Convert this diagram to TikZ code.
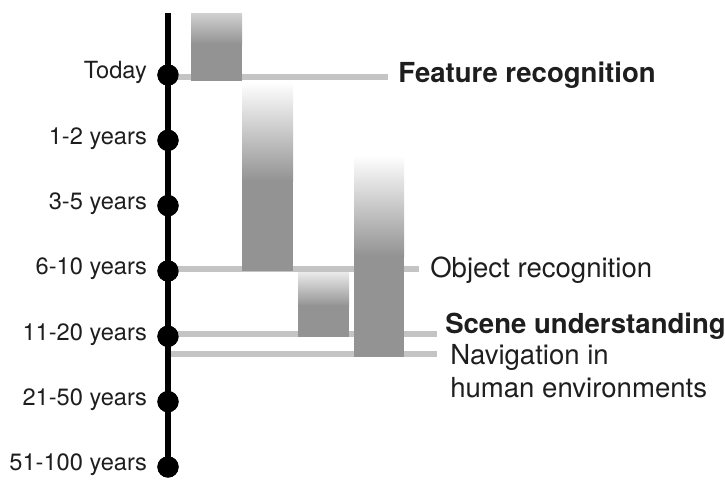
\documentclass[tikz,border=0pt]{standalone}
\usepackage{fontspec}
\setmainfont{TeX Gyre Heros}
\usetikzlibrary{positioning}

\definecolor{bargray}{HTML}{939393}
\definecolor{trackgray}{HTML}{C4C4C4}
\definecolor{inkgray}{HTML}{1E1E1E}

\newcommand{\yearfont}{\fontsize{16.8}{19}\selectfont}
\newcommand{\goalfont}{\fontsize{19.6}{22.8}\selectfont}

\tikzset{
  yeardot/.style={circle,fill=black,inner sep=0pt,minimum size=0.53cm},
  yearlabel/.style={font=\yearfont,text=inkgray,inner sep=0pt,anchor=mid east},
  axis/.style={line width=0.16cm,black},
  track/.style={line width=0.15cm,trackgray},
  goal/.style={font=\goalfont,text=inkgray,inner sep=0pt,anchor=base west,align=left}
}

\begin{document}
\begin{tikzpicture}[x=0.025cm,y=-0.025cm]
\useasboundingbox (0,0) rectangle (725,480);

% time axis
\coordinate (top) at (168,13);
\foreach \lab [count=\i from 0] in {Today,1-2 years,3-5 years,6-10 years,11-20 years,21-50 years,51-100 years}
  \node[yeardot,label={[yearlabel,label distance=0.25cm]left:\lab}] (t\i) at (168,{75+65.33*\i}) {};

% goals
\node[goal,font=\goalfont\bfseries] (feat) at (398,82) {Feature recognition};
\node[goal] (obj) at (430,277) {Object recognition};
\node[goal,font=\goalfont\bfseries] (scene) at (445,333) {Scene understanding};
% base anchor sits on the last line here
\node[goal] (nav) at (450,397) {Navigation in\\human environments};

\coordinate (e0) at (388,77);
\coordinate (e3) at (419,269);
\coordinate (e4) at (437,334);
\coordinate (e5) at (437,354);

\draw[track] (t0.center |- e0) -- (e0);
\draw[track] (t3.center |- e3) -- (e3);
\draw[track] (t4.center |- e4) -- (e4);
\draw[track] (top |- e5) -- (e5);

% bars
\shade[top color=black!18,bottom color=bargray] (191,13) rectangle (242,44);
\fill[bargray] (191,43) rectangle (242,81);

\shade[top color=white,bottom color=bargray] (242,82) rectangle (293,181);
\fill[bargray] (242,180) rectangle (293,271);

\shade[top color=black!8,bottom color=bargray] (298,272) rectangle (349,306);
\fill[bargray] (298,305) rectangle (349,337);

\shade[top color=white,bottom color=bargray] (354,155) rectangle (404,256);
\fill[bargray] (354,255) rectangle (404,357);

\draw[axis] (top) -- (t6.center);
\foreach \i in {0,...,6}
  \node[yeardot] at (t\i) {};
\end{tikzpicture}
\end{document}
